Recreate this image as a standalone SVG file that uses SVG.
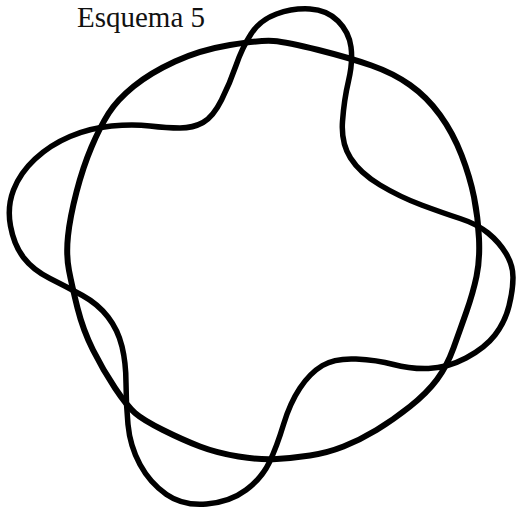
<svg xmlns="http://www.w3.org/2000/svg" width="520" height="513" viewBox="0 0 520 513">
<style>
.ink{fill:none;stroke:#000;stroke-linecap:round;stroke-linejoin:round}
.title{font-family:"Liberation Serif","Times New Roman",serif;font-size:29px;fill:#111}
</style>
<rect width="520" height="513" fill="#fff"/>
<text class="title" x="77" y="27">Esquema 5</text>
<g id="circle">
<path class="ink" stroke-width="6" d="M273.5,41 Q287,42 318.5,50 Q350,58 371.5,65.5 Q393,73 410,85 Q427,97 440,115 Q453,133 461.5,155 Q470,177 474,197 Q478,217 479,238.5 Q480,260 476.5,276.5 Q473,293 466.5,311.5 Q460,330 453.5,348 Q447,366 437,379.5 Q427,393 410,406.5 Q393,420 376.5,430 Q360,440 343.5,446.5 Q327,453 310,455.5 Q293,458 276.5,459 Q260,460 238.5,456.5 Q217,453 200,446.5 Q183,440 163,430 Q143,420 135,413 Q127,406 115,388 Q103,370 93,350 Q83,330 77.5,308 Q72,286 69,270.5 Q66,255 68,236 Q70,217 76.5,192 Q83,167 91.5,147 Q100,127 108.5,113.5 Q117,100 133.5,86.5 Q150,73 175,61.5 Q200,50 230,45 Q260,40 273.5,41 Z"/>
</g>
<g id="wavy">
<path class="ink" stroke-width="5.5" d="M276.5,14 Q293,8 310,9 Q327,10 338,21 Q349,32 351,47 Q353,62 348.5,81 Q344,100 342.5,121.5 Q341,143 350.5,158 Q360,173 380,185 Q400,197 421.5,205 Q443,213 460,218.5 Q477,224 488,233 Q499,242 506,253.5 Q513,265 513,277.5 Q513,290 509,306 Q505,322 495,335 Q485,348 466,358 Q447,368 428.5,368.5 Q410,369 393.5,364.5 Q377,360 356,359 Q335,358 322.5,365.5 Q310,373 300,388 Q290,403 283.5,424.5 Q277,446 269.5,462 Q262,478 246,490 Q230,502 206.5,504 Q183,506 166.5,494.5 Q150,483 140,464.5 Q130,446 128,424.5 Q126,403 126,383 Q126,363 122,346.5 Q118,330 108,317 Q98,304 82.5,295.5 Q67,287 50,278.5 Q33,270 23.5,257.5 Q14,245 10.5,226 Q7,207 13.5,190 Q20,173 35,159 Q50,145 70,136.5 Q90,128 111.5,126 Q133,124 150,126 Q167,128 180,128 Q193,128 203,122.5 Q213,117 221.5,100 Q230,83 236,65.5 Q242,48 251,34 Q260,20 276.5,14 Z"/>
</g>
</svg>
